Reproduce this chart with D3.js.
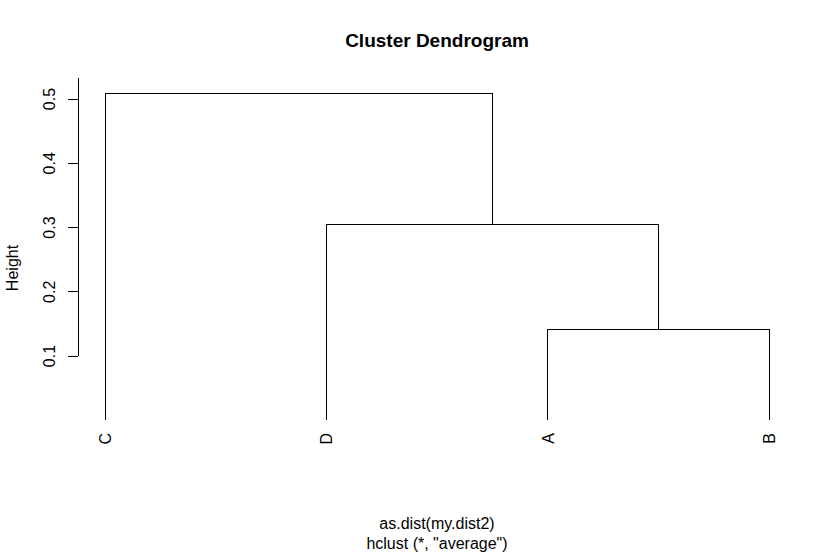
<!DOCTYPE html>
<html><head><meta charset="utf-8">
<script src="https://cdn.jsdelivr.net/npm/d3@7"></script>
<style>body{margin:0;background:#fff}svg{display:block}text{font-family:"Liberation Sans",Arial,sans-serif;fill:#000}</style>
</head><body>
<script>
const leafOrder = ["C","D","A","B"];
// merges: [left, right, height]
const merges = [
  {left:"A", right:"B", height:0.1405},
  {left:"D", right:"AB", height:0.3054},
  {left:"C", right:"DAB", height:0.5093}
];
const yTicks = [0.1,0.2,0.3,0.4,0.5];

const W=836,H=556;
const svg=d3.select("body").append("svg").attr("width",W).attr("height",H);
const x=d3.scaleLinear().domain([0,3]).range([105,769]);
const y=d3.scaleLinear().domain([0.1,0.5]).range([356,99]);

const pos={};
leafOrder.forEach((k,i)=>{pos[k]={x:x(i),h:0};});
const g=svg.append("g").attr("stroke","#000").attr("stroke-width",1).attr("fill","none").attr("shape-rendering","crispEdges");
merges.forEach(m=>{
  const L=pos[m.left],R=pos[m.right];
  const path=d3.path();
  path.moveTo(L.x,y(L.h));path.lineTo(L.x,y(m.height));path.lineTo(R.x,y(m.height));path.lineTo(R.x,y(R.h));
  g.append("path").attr("d",path.toString());
  pos[m.left+m.right]={x:(L.x+R.x)/2,h:m.height};
});

leafOrder.forEach((k,i)=>{
  svg.append("text").attr("transform",`translate(${x(i)+6},433) rotate(-90)`)
    .attr("text-anchor","end").attr("font-size",16).text(k);
});

const ax=svg.append("g").attr("transform","translate(78,0)");
ax.append("line").attr("x1",0).attr("x2",0).attr("y1",y(0.1)).attr("y2",78).attr("stroke","#000").attr("shape-rendering","crispEdges");
yTicks.forEach(t=>{
  ax.append("line").attr("x1",-10).attr("x2",0).attr("y1",y(t)).attr("y2",y(t)).attr("stroke","#000").attr("shape-rendering","crispEdges");
  ax.append("text").attr("transform",`translate(-23,${y(t)}) rotate(-90)`).attr("text-anchor","middle").attr("font-size",16).text(d3.format(".1f")(t));
});
svg.append("text").attr("transform","translate(18,268) rotate(-90)").attr("text-anchor","middle").attr("font-size",16).text("Height");

svg.append("text").attr("x",437).attr("y",47).attr("text-anchor","middle").attr("font-size",19).attr("font-weight","bold").text("Cluster Dendrogram");
svg.append("text").attr("x",437).attr("y",529).attr("text-anchor","middle").attr("font-size",16).text("as.dist(my.dist2)");
svg.append("text").attr("x",437).attr("y",549).attr("text-anchor","middle").attr("font-size",16).text('hclust (*, "average")');
</script>
</body></html>
